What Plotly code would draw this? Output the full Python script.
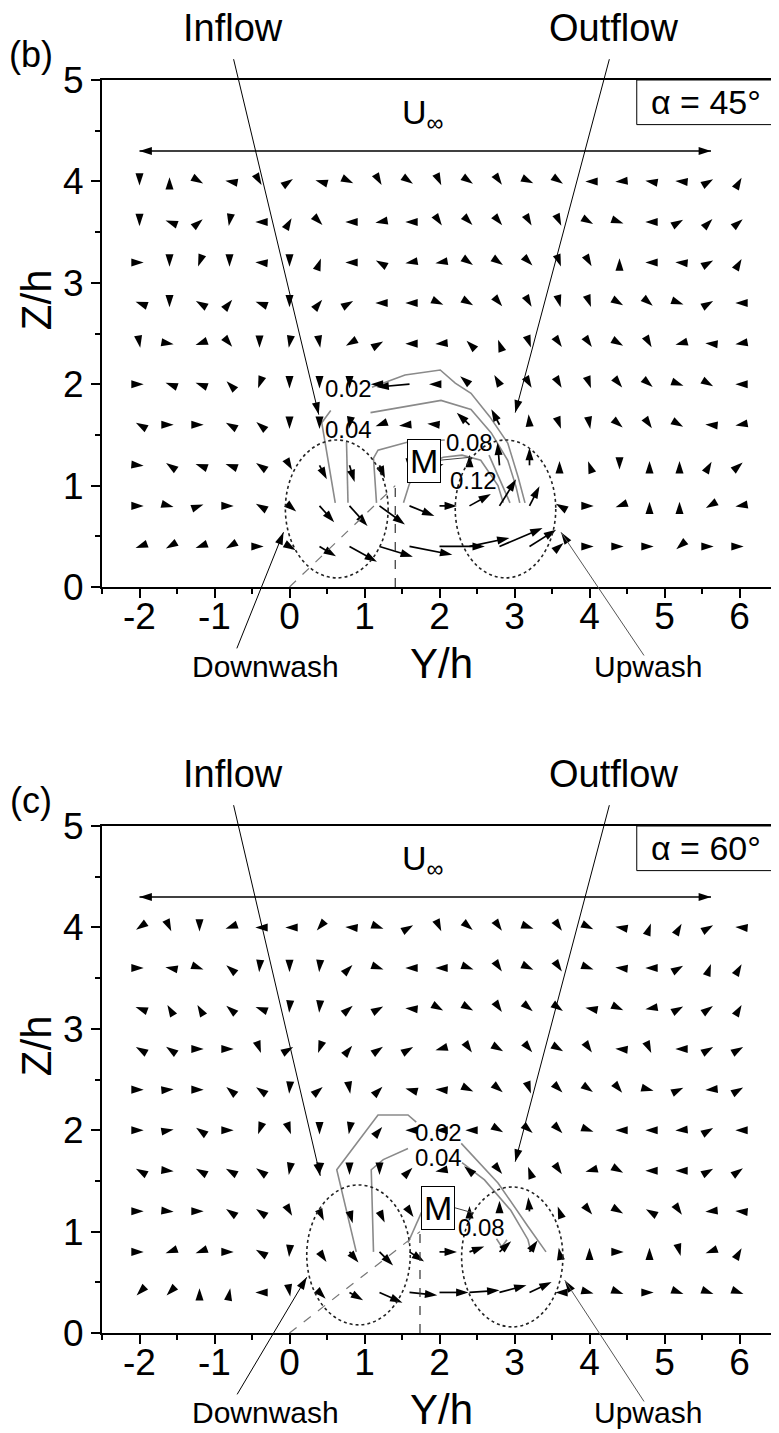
import math
import plotly.graph_objects as go

# measurement grid (Y/h columns, Z/h rows)
Y_COLS = [-2.0, -1.6, -1.2, -0.8, -0.4, 0.0, 0.4, 0.8, 1.2, 1.6, 2.0,
          2.4, 2.8, 3.2, 3.6, 4.0, 4.4, 4.8, 5.2, 5.6, 6.0]
Z_ROWS = [4.0, 3.6, 3.2, 2.8, 2.4, 2.0, 1.6, 1.2, 0.8, 0.4]

# in-plane velocity, panel (b) alpha = 45 deg: direction (deg) and magnitude
DIR_B = [
    [-90, 90, -30, 170, -60, 35, 165, -25, -60, -35, -65, -35, -55, -25, -35, 180, 185, 170, 175, 30, 60],
    [-90, 160, 40, -100, 180, 60, -45, 180, 190, 180, -55, -45, -50, -60, -65, -30, -20, 180, 30, 45, 40],
    [0, -90, -110, -90, 175, -90, 70, 180, 150, 190, 190, -35, -35, -45, -70, -60, 90, 180, 175, 30, 60],
    [160, -90, 150, 50, 160, -90, 50, 30, 180, 180, -25, -30, -50, -60, -75, -70, -30, -40, -20, 30, 180],
    [-80, -10, -160, -50, -90, -100, -80, 210, 30, 180, 185, 135, 110, -70, -55, -55, -30, -60, 195, 175, 190],
    [0, 160, 160, 135, -110, -90, -90, -90, 180, 185, 180, 140, 120, -60, -60, -70, -50, -40, -20, -30, 180],
    [150, 0, 0, 150, 140, -90, -90, -100, 200, 185, 175, 137, 118, 95, -70, -80, -40, -55, -30, 175, 190],
    [-5, 145, 160, 160, 145, -60, -62, -73, -67, -90, 15, 90, 95, 90, 90, 110, -90, 90, 90, 60, 40],
    [0, -15, 20, 0, 150, -40, -48, -48, -36, -22, 0, 29, 58, 63, 150, 0, 200, 90, 90, 210, 190],
    [200, 210, 200, 210, 0, -30, -31, -29, -17, -11, 0, 12, 23, 32, 40, 0, 0, 0, 220, 0, 0],
]
SPD_B = [
    [0.012] * 21,
    [0.012] * 21,
    [0.012] * 21,
    [0.012] * 21,
    [0.012] * 21,
    [0.012] * 8 + [0.025, 0.095, 0.03, 0.035, 0.03] + [0.012] * 8,
    [0.012] * 9 + [0.03, 0.035, 0.05, 0.05, 0.03] + [0.012] * 7,
    [0.012] * 5 + [0.015, 0.045, 0.05, 0.04, 0.015, 0.012, 0.03, 0.065, 0.05] + [0.012] * 7,
    [0.012] * 5 + [0.025, 0.063, 0.077, 0.09, 0.077, 0.05, 0.07, 0.09, 0.063] + [0.012] * 7,
    [0.012] * 5 + [0.02, 0.055, 0.09, 0.1, 0.125, 0.13, 0.117, 0.134, 0.09, 0.015] + [0.012] * 6,
]

# panel (c) alpha = 60 deg
DIR_C = [
    [215, -65, -90, 200, 180, 180, 230, 175, -20, 30, -65, -40, -55, -20, -55, -25, 170, 70, 60, 30, 175],
    [0, 170, -20, 140, -95, -90, -95, 45, -20, 180, 180, -20, -55, -25, -55, -20, 175, 180, 30, 70, 60],
    [160, 120, 120, 140, 160, -95, -95, 40, 30, 175, -30, -30, -55, -40, -35, 170, -25, 190, 30, 35, 60],
    [150, 145, 0, 0, -70, 30, -110, 50, 35, 30, 195, -55, -30, -50, -30, -55, 175, -65, 180, 30, 30],
    [0, 5, 0, 140, 145, -95, 40, -80, 45, 165, 175, -25, -40, -70, -45, -35, -50, -15, 25, 185, 30],
    [0, 10, 145, 0, 250, -70, -90, -100, 50, 180, 180, 180, -30, -40, -45, -20, 180, 180, 185, 30, 180],
    [150, -5, 150, 150, 145, -100, -95, -90, -90, 45, 190, 140, -50, 110, -55, 195, -30, 180, 180, 30, 35],
    [0, -5, 0, 145, 145, -60, -65, -75, -65, -55, 0, 90, 90, 95, 110, -50, -30, 150, -55, 185, 175],
    [0, 200, 200, 0, 150, -95, -55, -50, -45, -33, 0, 20, 42, 55, 100, 90, 0, 90, -75, 200, 60],
    [225, 225, 90, 80, 180, -80, -45, -30, -24, -6, 0, 4, 15, 25, 180, -15, -20, 0, -20, -20, -20],
]
SPD_C = [
    [0.012] * 21,
    [0.012] * 21,
    [0.012] * 21,
    [0.012] * 21,
    [0.012] * 21,
    [0.012] * 21,
    [0.012] * 11 + [0.02] + [0.012] * 9,
    [0.012] * 5 + [0.015, 0.03, 0.035, 0.035, 0.02, 0.012, 0.015, 0.03, 0.04, 0.015] + [0.012] * 6,
    [0.012] * 5 + [0.015, 0.035, 0.04, 0.055, 0.05, 0.05, 0.045, 0.045, 0.04, 0.012] + [0.012] * 6,
    [0.012] * 5 + [0.012, 0.025, 0.045, 0.072, 0.08, 0.083, 0.086, 0.08, 0.07] + [0.012] * 7,
]

# streamwise velocity contours (Y/h, Z/h), None = gap for label
B_C02_Y = [0.61, 0.43, 0.55, None, 1.10, 1.54, 2.01, 2.21, 2.42, 2.67, 2.91, 3.05, 3.14]
B_C02_Z = [0.83, 1.62, 1.74, None, 1.97, 2.09, 2.14, 2.01, 1.91, 1.68, 1.42, 1.08, 0.83]
B_C04_Y = [0.78, 0.76, None, 1.08, 1.58, 2.02, 2.42, 2.69, 2.91, 3.02, 3.07]
B_C04_Z = [0.83, 1.43, None, 1.72, 1.78, 1.84, 1.75, 1.52, 1.25, 0.99, 0.83]
B_C08_Y = [1.16, 1.12, 1.18, 1.58, 2.07, None, 2.66, 2.80, 2.94]
B_C08_Z = [0.83, 1.27, 1.35, 1.43, 1.45, None, 1.30, 1.07, 0.83]
B_C12_Y = [1.52, 1.60, 1.80, 2.05, 2.30, 2.55, 2.78, 2.85]
B_C12_Z = [0.83, 1.02, 1.20, 1.28, 1.30, 1.25, 1.00, 0.83]

C_C02_Y = [0.89, 0.63, 1.18, 1.58, 1.69, None, 2.29, 2.78, 3.18, 3.42]
C_C02_Z = [0.80, 1.61, 2.15, 2.15, 2.08, None, 1.87, 1.48, 1.05, 0.80]
C_C04_Y = [1.12, 1.09, 1.25, 1.58, None, 2.30, 2.60, 2.95, 3.18, 3.22]
C_C04_Z = [0.80, 1.61, 1.71, 1.82, None, 1.68, 1.51, 1.21, 0.92, 0.80]
C_C08_Y = [1.58, 1.76, None, 2.76, 2.83, 2.90]
C_C08_Z = [0.89, 1.19, None, 0.93, 0.85, 0.92]

FONT = 'Liberation Sans, Arial, sans-serif'
# page pixels of the target picture; the html body adds an 8 px margin
PAGE_W, PAGE_H = 779, 1433
BODY = 8
W, H = PAGE_W - BODY, PAGE_H - BODY
PLOT_L, PLOT_R, PLOT_B = 102, 779, 1333          # page px
ML, MR, MT, MB = PLOT_L - BODY, 0, 80 - BODY, PAGE_H - PLOT_B
PW, PH = W - ML - MR, H - MT - MB
PANEL_PX = 507
PX_X = PW / 9.0
PX_Y = PANEL_PX / 5.0
ARROW_SCALE = 350.0   # px per unit speed
HEAD = 13


def paper(px, py):
    # page px -> paper fraction
    return (px - PLOT_L) / PW, (PLOT_B - py) / PH


def head_angle(x0, y0, x1, y1):
    th = math.degrees(math.atan2((y1 - y0) * PX_Y, (x1 - x0) * PX_X))
    return 90 - th


def vector_traces(dirs, spds, xa, ya):
    sx, sy, mx, my, ang = [], [], [], [], []
    for i, z in enumerate(Z_ROWS):
        for j, y in enumerate(Y_COLS):
            th = math.radians(dirs[i][j])
            L = ARROW_SCALE * spds[i][j]
            tx = y + L * math.cos(th) / PX_X
            tz = z + L * math.sin(th) / PX_Y
            if L > HEAD * 0.7:
                l2 = L - 4
                sx += [y, y + l2 * math.cos(th) / PX_X, None]
                sy += [z, z + l2 * math.sin(th) / PX_Y, None]
            mx.append(tx)
            my.append(tz)
            ang.append(90 - dirs[i][j])
    return [
        go.Scatter(x=sx, y=sy, mode='lines', line=dict(color='black', width=1.7),
                   xaxis=xa, yaxis=ya, hoverinfo='skip'),
        go.Scatter(x=mx, y=my, mode='markers', cliponaxis=False,
                   marker=dict(symbol='arrow', size=HEAD, angle=ang, color='black',
                               line=dict(width=0)),
                   xaxis=xa, yaxis=ya, hoverinfo='skip'),
    ]


def contour_trace(xs, zs, xa, ya):
    return go.Scatter(x=xs, y=zs, mode='lines', line=dict(color='#8a8a8a', width=1.6),
                      xaxis=xa, yaxis=ya, hoverinfo='skip', connectgaps=False)


fig = go.Figure()

panels = [
    dict(xa='x', ya='y', dirs=DIR_B, spds=SPD_B, tag='(b)', alpha='\u03b1 = 45\u00b0', top=80,
         contours=[(B_C02_Y, B_C02_Z), (B_C04_Y, B_C04_Z), (B_C08_Y, B_C08_Z), (B_C12_Y, B_C12_Z)],
         labels=[('0.02', 0.78, 1.96), ('0.04', 0.78, 1.55), ('0.08', 2.40, 1.43), ('0.12', 2.45, 1.05)],
         ellipses=[(0.63, 0.77, 0.685, 0.68), (2.88, 0.77, 0.67, 0.68)],
         slant=1.41, m_box=(1.79, 1.24), m_lead=(2.00, 1.25, 2.42, 1.28),
         inflow=(0.39, 1.70), outflow=(3.01, 1.72), down=(-0.08, 0.54), up=(3.62, 0.54)),
    dict(xa='x2', ya='y2', dirs=DIR_C, spds=SPD_C, tag='(c)', alpha='\u03b1 = 60\u00b0', top=826,
         contours=[(C_C02_Y, C_C02_Z), (C_C04_Y, C_C04_Z), (C_C08_Y, C_C08_Z)],
         labels=[('0.02', 1.99, 1.975), ('0.04', 1.99, 1.735), ('0.08', 2.56, 1.04)],
         ellipses=[(0.92, 0.77, 0.69, 0.69), (2.97, 0.75, 0.675, 0.69)],
         slant=1.74, m_box=(1.98, 1.23), m_lead=(2.18, 1.24, 2.42, 1.19),
         inflow=(0.41, 1.55), outflow=(3.01, 1.69), down=(0.23, 0.55), up=(3.67, 0.52)),
]

annotations = []
shapes = []

for p in panels:
    xa, ya = p['xa'], p['ya']
    xr, yr = xa, ya
    off = p['top'] - 80

    for cx, cz in p['contours']:
        fig.add_trace(contour_trace(cx, cz, xa, ya))
    for tr in vector_traces(p['dirs'], p['spds'], xa, ya):
        fig.add_trace(tr)

    # ellipses
    for cx, cz, rx, rz in p['ellipses']:
        shapes.append(dict(type='circle', xref=xr, yref=yr, x0=cx - rx, x1=cx + rx,
                           y0=cz - rz, y1=cz + rz, line=dict(color='#222222', width=1.6, dash='dot')))
    # wind direction guides
    s = p['slant']
    shapes.append(dict(type='line', xref=xr, yref=yr, x0=0, y0=0, x1=s, y1=1.0,
                       line=dict(color='#777777', width=1.2, dash='dash')))
    shapes.append(dict(type='line', xref=xr, yref=yr, x0=s, y0=0, x1=s, y1=1.0,
                       line=dict(color='#333333', width=1.2, dash='dash')))
    # alpha box
    shapes.append(dict(type='rect', xref=xr, yref=yr, x0=4.63, x1=6.5, y0=4.56, y1=5.0,
                       line=dict(color='black', width=1), fillcolor='white', layer='above'))

    # U infinity double arrow
    fig.add_trace(go.Scatter(x=[-2.0, 5.62], y=[4.3, 4.3], mode='lines',
                             line=dict(color='black', width=1.6), xaxis=xa, yaxis=ya, hoverinfo='skip'))

    # leaders: (tail, head)
    leaders = [
        ((-0.75, 5.22), p['inflow'], 'black'),
        ((4.27, 5.22), p['outflow'], 'black'),
        ((-0.71, -0.62), p['down'], 'black'),
        ((4.74, -0.69), p['up'], '#555555'),
    ]
    hx, hy, ha = [-2.0, 5.62], [4.3, 4.3], [-90, 90]
    for (tx, ty), (ex, ey), col in leaders:
        annotations.append(dict(x=ex, y=ey, ax=tx, ay=ty, xref=xr, yref=yr, axref=xr, ayref=yr,
                                text='', showarrow=True, arrowhead=0, arrowwidth=1,
                                arrowcolor=col, standoff=0))
        hx.append(ex)
        hy.append(ey)
        ha.append(head_angle(tx, ty, ex, ey))
    fig.add_trace(go.Scatter(x=hx, y=hy, mode='markers', cliponaxis=False,
                             marker=dict(symbol='arrow', size=HEAD, angle=ha, color='black',
                                         line=dict(width=0)),
                             xaxis=xa, yaxis=ya, hoverinfo='skip'))

    # M marker
    mx0, mz0, mx1, mz1 = p['m_lead']
    annotations.append(dict(x=mx1, y=mz1, ax=mx0, ay=mz0, xref=xr, yref=yr, axref=xr, ayref=yr,
                            text='', showarrow=True, arrowhead=0, arrowwidth=1,
                            arrowcolor='#444444', standoff=0))
    annotations.append(dict(x=p['m_box'][0], y=p['m_box'][1], xref=xr, yref=yr, text='M',
                            showarrow=False, font=dict(size=34, family=FONT, color='black'),
                            bgcolor='white', bordercolor='black', borderwidth=1, borderpad=2))

    for txt, lx, lz in p['labels']:
        annotations.append(dict(x=lx, y=lz, xref=xr, yref=yr, text=txt, showarrow=False,
                                font=dict(size=24, family=FONT, color='black')))

    annotations.append(dict(x=1.78, y=4.66, xref=xr, yref=yr, text='U<sub>\u221e</sub>',
                            showarrow=False, font=dict(size=34, family=FONT, color='black')))
    annotations.append(dict(x=5.55, y=4.78, xref=xr, yref=yr, text=p['alpha'], showarrow=False,
                            font=dict(size=34, family=FONT, color='black')))

    # text in margins (page pixel placement)
    for txt, px, py, size, rot in [
        (p['tag'], 31, 54 + off, 36, 0),
        ('Inflow', 233, 28 + off, 38, 0),
        ('Outflow', 615, 28 + off, 38, 0),
        ('Downwash', 266, 666 + off, 30, 0),
        ('Upwash', 650, 666 + off, 30, 0),
        ('Y/h', 443, 663 + off, 42, 0),
        ('Z/h', 36, 300 + off, 42, -90),
    ]:
        ppx, ppy = paper(px, py)
        annotations.append(dict(x=ppx, y=ppy, xref='paper', yref='paper', text=txt,
                                showarrow=False, textangle=rot, xanchor='center', yanchor='middle',
                                font=dict(size=size, family=FONT, color='black')))

x_ticks = [-2, -1, 0, 1, 2, 3, 4, 5, 6]
x_minor = [-2.5, -1.5, -0.5, 0.5, 1.5, 2.5, 3.5, 4.5, 5.5, 6.5]
z_ticks = [0, 1, 2, 3, 4, 5]
z_minor = [0.5, 1.5, 2.5, 3.5, 4.5]

xax = dict(range=[-2.5, 6.5], domain=[0, 1], showline=True, linecolor='black', linewidth=2,
           mirror=True, ticks='outside', ticklen=9, tickwidth=2, tickcolor='black',
           tickvals=x_ticks, ticktext=[str(v) for v in x_ticks], showgrid=False, zeroline=False,
           tickfont=dict(size=37, family=FONT, color='black'), ticklabelstandoff=-13,
           minor=dict(tickvals=x_minor, ticks='outside', ticklen=5, tickwidth=2, tickcolor='black'))
yax = dict(range=[0, 5], showline=True, linecolor='black', linewidth=2, mirror=True,
           ticks='outside', ticklen=9, tickwidth=2, tickcolor='black',
           tickvals=z_ticks, ticktext=[str(v) for v in z_ticks], showgrid=False, zeroline=False,
           tickfont=dict(size=37, family=FONT, color='black'),
           minor=dict(tickvals=z_minor, ticks='outside', ticklen=5, tickwidth=2, tickcolor='black'))

top_lo = (PLOT_B - 587) / PH
bot_hi = (PLOT_B - 826) / PH

fig.update_layout(
    width=W, height=H, margin=dict(l=ML, r=MR, t=MT, b=MB),
    paper_bgcolor='white', plot_bgcolor='white', showlegend=False,
    xaxis=dict(xax, anchor='y'),
    yaxis=dict(yax, anchor='x', domain=[top_lo, 1.0]),
    xaxis2=dict(xax, anchor='y2'),
    yaxis2=dict(yax, anchor='x2', domain=[0.0, bot_hi]),
    annotations=annotations, shapes=shapes,
)

fig.write_html("out.html")
